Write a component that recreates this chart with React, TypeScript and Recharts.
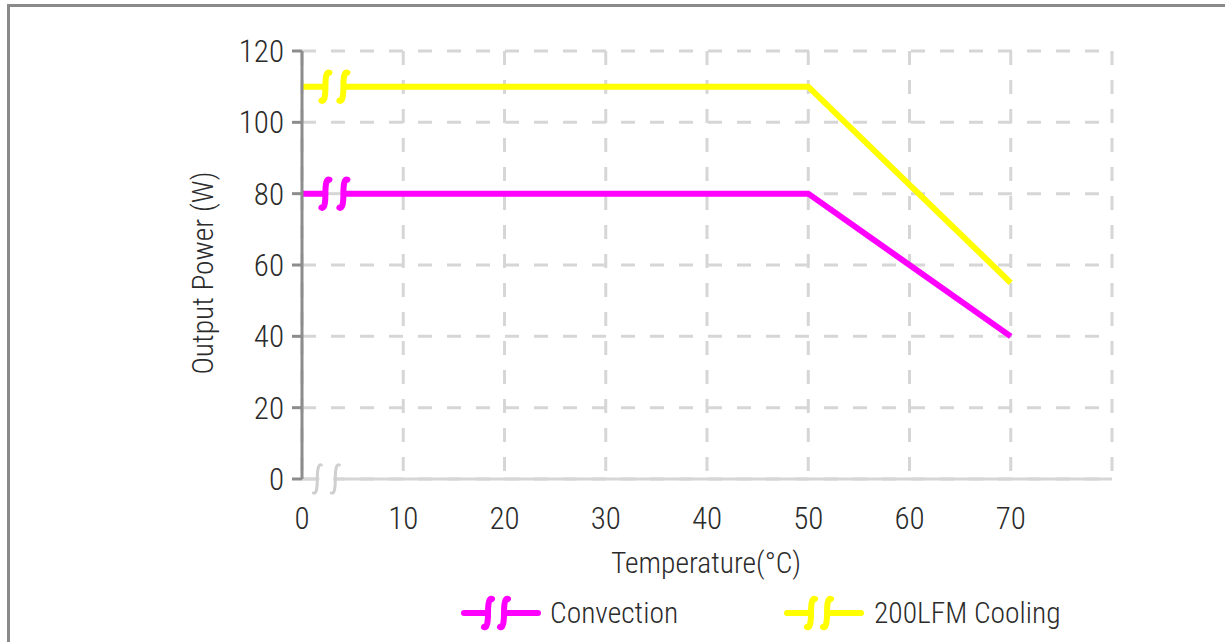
import { CartesianGrid, Label, Line, LineChart, ReferenceDot, XAxis, YAxis } from "recharts";

const temps = [0, 50, 70];
const convection = [80, 80, 40];
const cooling = [110, 110, 55];
const xTicks = [0, 10, 20, 30, 40, 50, 60, 70, 80];
const yTicks = [0, 20, 40, 60, 80, 100, 120];
const lineBreakAt = 3.2;
const axisBreakAt = 2.4;

const FONT = '"Roboto Condensed", Roboto, sans-serif';
const MAGENTA = "#ff00ff";
const YELLOW = "#ffff00";
const GRID = "#d6d6d6";
const AXIS = "#8c8c8c";
const TEXT = "#2b2b2b";

const rows = temps.map((t, i) => ({ t, convection: convection[i], cooling: cooling[i] }));

// S-shaped "break" stroke, top hooks right, bottom hooks left
function squiggle(x: number, y: number, h = 15) {
  return `M ${x + 4} ${y - h + 1} Q ${x} ${y - h - 1} ${x} ${y} Q ${x} ${y + h + 1} ${x - 4} ${y + h - 1}`;
}

function BreakMark({ cx, cy, color, gapLine, width = 6 }: any) {
  const a = cx - 9;
  const b = cx + 9;
  return (
    <g>
      <line x1={a + 2} x2={b - 2} y1={cy} y2={cy} stroke="#fff" strokeWidth={9} />
      {gapLine && <line x1={a + 2} x2={b - 2} y1={cy} y2={cy} stroke={gapLine} strokeWidth={3} />}
      <path d={squiggle(a, cy)} stroke={color} strokeWidth={width} fill="none" strokeLinecap="round" />
      <path d={squiggle(b, cy)} stroke={color} strokeWidth={width} fill="none" strokeLinecap="round" />
    </g>
  );
}

function LegendIcon({ color }: { color: string }) {
  return (
    <svg width={82} height={40} style={{ display: "block" }}>
      <line x1={4} x2={78} y1={20} y2={20} stroke={color} strokeWidth={6} strokeLinecap="round" />
      <line x1={30} x2={42} y1={20} y2={20} stroke="#fff" strokeWidth={9} />
      <path d={squiggle(28, 20, 15)} stroke={color} strokeWidth={6} fill="none" strokeLinecap="round" />
      <path d={squiggle(44, 20, 15)} stroke={color} strokeWidth={6} fill="none" strokeLinecap="round" />
    </svg>
  );
}

export default function App() {
  return (
    <div style={{ position: "fixed", left: 0, top: 0, width: 1225, height: 642, background: "#fff", overflow: "hidden" }}>
      <div
        style={{
          position: "absolute",
          left: 7,
          top: 4,
          width: 2000,
          height: 2000,
          borderLeft: "3px solid #8a8a8a",
          borderTop: "3px solid #8a8a8a",
        }}
      />
      <div style={{ position: "absolute", left: 0, top: 0 }}>
        <LineChart width={1225} height={642} data={rows} margin={{ top: 51, right: 113, bottom: 133, left: 222 }}>
          <CartesianGrid stroke={GRID} strokeWidth={3} strokeDasharray="14 15" />
          <XAxis
            dataKey="t"
            type="number"
            domain={[0, 80]}
            ticks={xTicks}
            tickFormatter={(v: number) => (v === 80 ? "" : String(v))}
            tickLine={false}
            tickSize={0}
            tickMargin={28}
            height={30}
            axisLine={{ stroke: GRID, strokeWidth: 3 }}
            tick={{ fill: TEXT, fontSize: 31, fontFamily: FONT, fontWeight: 300 }}
          >
            <Label
              content={() => (
                <text x={706} y={573} textAnchor="middle" fill={TEXT} fontSize={29.5} fontFamily={FONT} fontWeight={300}>
                  Temperature(°C)
                </text>
              )}
            />
          </XAxis>
          <YAxis
            type="number"
            domain={[0, 120]}
            ticks={yTicks}
            width={80}
            tickSize={10}
            tickMargin={8}
            tickLine={{ stroke: AXIS, strokeWidth: 3 }}
            axisLine={{ stroke: AXIS, strokeWidth: 3 }}
            tick={{ fill: TEXT, fontSize: 31, fontFamily: FONT, fontWeight: 300 }}
          >
            <Label
              content={() => (
                <text
                  x={213}
                  y={273}
                  transform="rotate(-90 213 273)"
                  textAnchor="middle"
                  fill={TEXT}
                  fontSize={29.5}
                  fontFamily={FONT}
                  fontWeight={300}
                >
                  Output Power (W)
                </text>
              )}
            />
          </YAxis>
          <Line
            dataKey="cooling"
            type="linear"
            stroke={YELLOW}
            strokeWidth={6}
            dot={false}
            activeDot={false}
            isAnimationActive={false}
          />
          <Line
            dataKey="convection"
            type="linear"
            stroke={MAGENTA}
            strokeWidth={6}
            dot={false}
            activeDot={false}
            isAnimationActive={false}
          />
          <ReferenceDot
            x={lineBreakAt}
            y={110}
            r={1}
            shape={(p: any) => <BreakMark cx={p.cx} cy={p.cy} color={YELLOW} />}
          />
          <ReferenceDot
            x={lineBreakAt}
            y={80}
            r={1}
            shape={(p: any) => <BreakMark cx={p.cx} cy={p.cy} color={MAGENTA} gapLine={GRID} />}
          />
          <ReferenceDot
            x={axisBreakAt}
            y={0}
            r={1}
            shape={(p: any) => <BreakMark cx={p.cx} cy={p.cy} color="#cfcfcf" width={3} />}
          />
        </LineChart>
      </div>
      <div
        style={{
          position: "absolute",
          top: 593,
          left: 460,
          display: "flex",
          alignItems: "center",
          fontFamily: FONT,
          fontWeight: 300,
          fontSize: 29.5,
          color: TEXT,
        }}
      >
        <LegendIcon color={MAGENTA} />
        <span style={{ marginLeft: 8, width: 242 - 9 }}>Convection</span>
        <LegendIcon color={YELLOW} />
        <span style={{ marginLeft: 9 }}>200LFM Cooling</span>
      </div>
    </div>
  );
}
